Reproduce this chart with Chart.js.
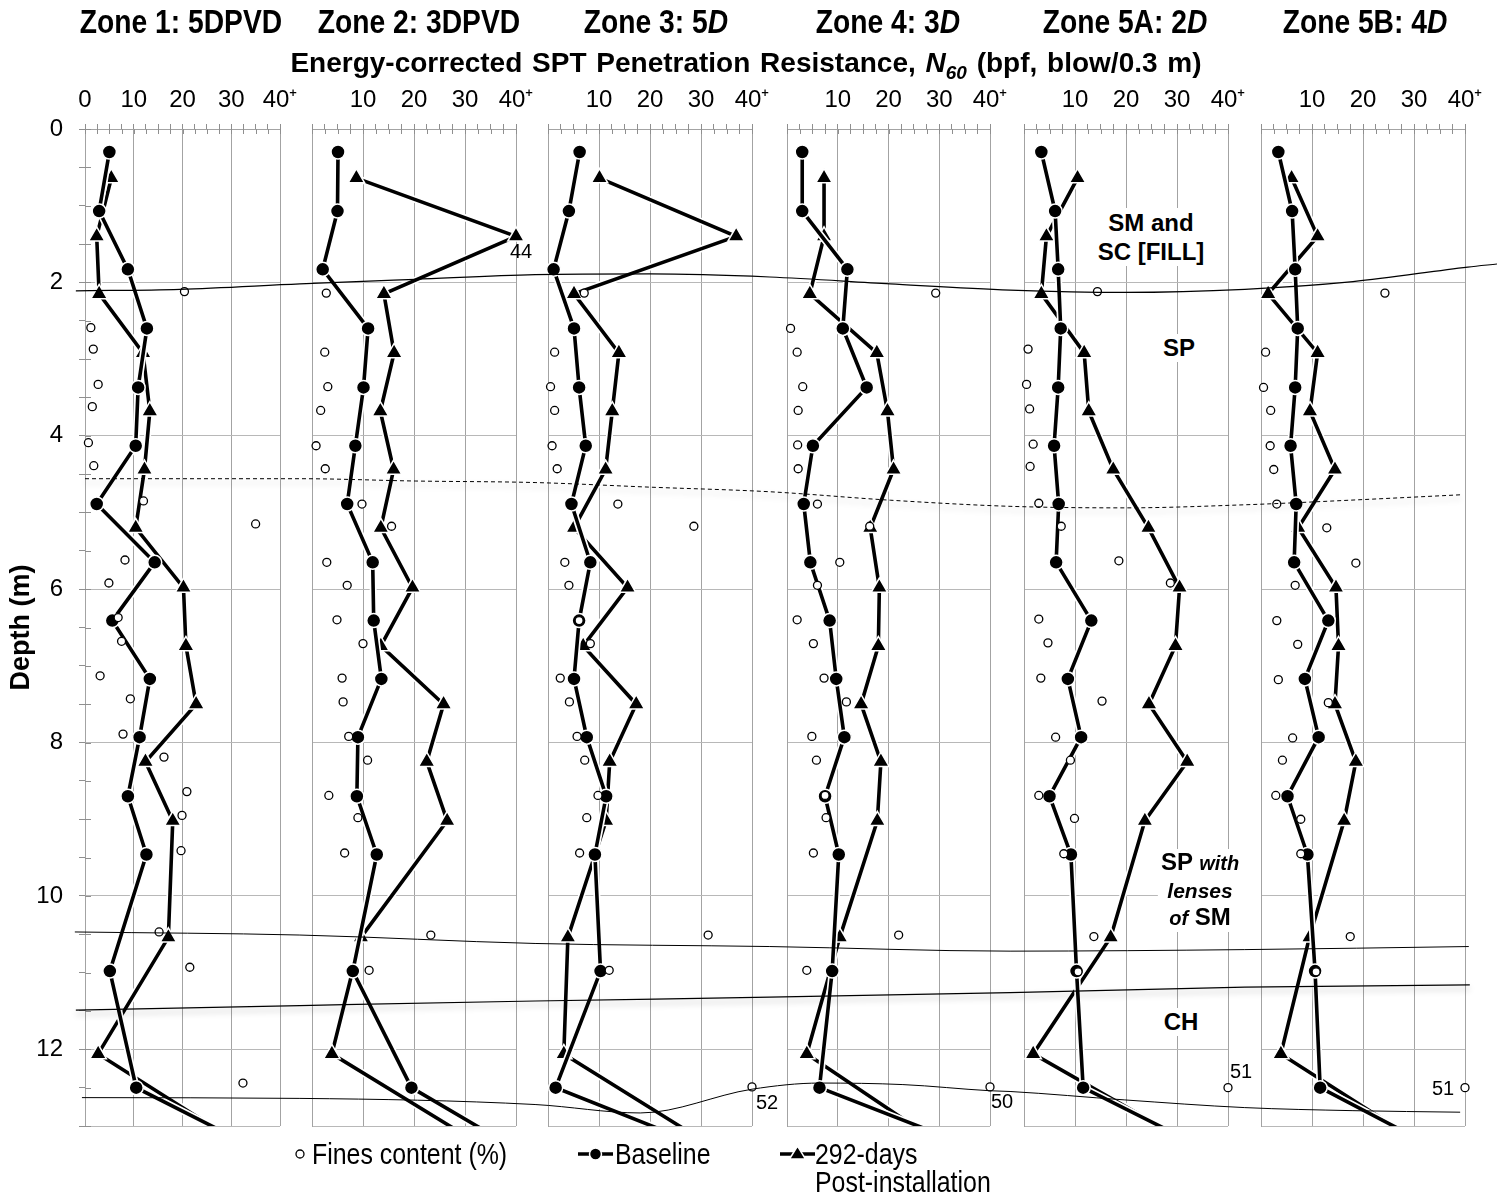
<!DOCTYPE html>
<html>
<head>
<meta charset="utf-8">
<title>SPT N60 profiles by zone</title>
<script src="https://cdn.jsdelivr.net/npm/chart.js@4.4.1/dist/chart.umd.min.js"></script>
<style>
  body { margin: 0; background: #fff; }
  #stage { position: relative; width: 1497px; height: 1193px; overflow: hidden; color: #000;
           font-family: "Liberation Sans Narrow", "Arial Narrow", "Liberation Sans", Arial, sans-serif; }
  #stage canvas { position: absolute; left: 0; top: 0; z-index: 1; }
  .txt { position: absolute; white-space: nowrap; line-height: 1; z-index: 2; }
  .zone { top: 4px; width: 300px; text-align: center; font-weight: bold; font-size: 34px; transform: scaleX(0.83); }
  .main { top: 49px; left: 246px; width: 1000px; text-align: center; font-weight: bold; font-size: 28px; word-spacing: 2px; }
  .strat { font-family: "Liberation Sans", Arial, sans-serif; font-weight: bold; font-size: 24px;
           background: #fff; text-align: center; transform: translateX(-50%); padding: 0 3px; }
  .leg { font-size: 30px; transform: scaleX(0.83); transform-origin: 0 50%; }
  svg.txt { overflow: visible; }
</style>
</head>
<body>
<div id="stage">
  <div class="txt zone" style="left:31px">Zone 1: 5DPVD</div>
  <div class="txt zone" style="left:269px">Zone 2: 3DPVD</div>
  <div class="txt zone" style="left:506px">Zone 3: 5<i>D</i></div>
  <div class="txt zone" style="left:738px">Zone 4: 3<i>D</i></div>
  <div class="txt zone" style="left:975px">Zone 5A: 2<i>D</i></div>
  <div class="txt zone" style="left:1215px">Zone 5B: 4<i>D</i></div>
  <div class="txt main">Energy-corrected SPT Penetration Resistance, <i>N</i><sub style="font-size:19px"><i>60</i></sub> (bpf, blow/0.3 m)</div>

  <div class="txt strat" style="left:1151px;top:208px;line-height:29px">SM and<br>SC [FILL]</div>
  <div class="txt strat" style="left:1179px;top:334px;line-height:28px">SP</div>
  <div class="txt strat" style="left:1200px;top:849px;line-height:26.5px">SP <i style="font-size:20px">with</i><br><i style="font-size:21px">lenses</i><br><i style="font-size:20px">of</i> SM</div>
  <div class="txt strat" style="left:1181px;top:1008px;line-height:28px">CH</div>

  <svg class="txt" style="left:290px;top:1140px" width="20" height="28"><circle cx="10" cy="14" r="4" fill="#fff" stroke="#000" stroke-width="1.3"/></svg>
  <div class="txt leg" style="left:312px;top:1139px">Fines content (%)</div>
  <svg class="txt" style="left:576px;top:1140px" width="40" height="28"><line x1="2" y1="14" x2="37" y2="14" stroke="#000" stroke-width="3.5"/><circle cx="19.5" cy="14" r="6" fill="#000" stroke="#fff" stroke-width="1.5"/></svg>
  <div class="txt leg" style="left:615px;top:1139px">Baseline</div>
  <svg class="txt" style="left:778px;top:1140px" width="40" height="28"><line x1="2" y1="14" x2="37" y2="14" stroke="#000" stroke-width="3.5"/><polygon points="19.5,6 27.5,19 11.5,19" fill="#000" stroke="#fff" stroke-width="1.5"/></svg>
  <div class="txt leg" style="left:815px;top:1139px">292-days</div>
  <div class="txt leg" style="left:815px;top:1167px">Post-installation</div>
</div>
<script>
// sampling depths (m)
const baseDepth = [0.3, 1.07, 1.83, 2.6, 3.37, 4.13, 4.89, 5.65, 6.41, 7.17, 7.93, 8.7, 9.46, 10.98, 12.5, 13.3];
const postDepth = [0.64, 1.4, 2.15, 2.92, 3.68, 4.44, 5.2, 5.98, 6.74, 7.5, 8.25, 9.02, 10.54, 12.06, 13.3];

// N60 baseline per zone
const base1 = [5.0, 2.9, 8.8, 12.7, 10.9, 10.4, 2.4, 14.3, 5.6, 13.3, 11.2, 8.8, 12.6, 5.1, 10.5, 35.3];
const base2 = [5.1, 5.0, 2.1, 11.0, 10.1, 8.5, 6.9, 11.9, 12.1, 13.6, 9.0, 8.8, 12.7, 8.0, 19.5, 40.0];
const base3 = [6.2, 4.1, 1.1, 5.1, 6.1, 7.4, 4.6, 8.3, 6.1, 5.1, 7.6, 11.4, 9.2, 10.3, 1.5, 31.7];
const base4 = [3.0, 3.0, 11.9, 11.0, 15.7, 5.1, 3.3, 4.6, 8.4, 9.7, 11.3, 7.5, 10.2, 8.9, 6.4, 37.5];
const base5 = [3.4, 6.1, 6.7, 7.2, 6.7, 5.9, 6.8, 6.3, 13.2, 8.6, 11.2, 5.0, 9.2, 10.3, 11.6, 35.6];
const base6 = [3.4, 6.1, 6.7, 7.2, 6.7, 5.8, 6.9, 6.5, 13.2, 8.6, 11.3, 5.2, 9.1, 10.6, 11.6, 34.6];

// N60 292 days post-installation per zone
const post1 = [5.4, 2.4, 2.9, 11.9, 13.3, 12.2, 10.4, 20.2, 20.7, 22.8, 12.4, 18.0, 17.1, 2.7, 33.4];
const post2 = [8.7, 44, 14.1, 16.1, 13.4, 16.0, 13.5, 19.7, 13.5, 25.8, 22.5, 26.5, 9.6, 3.9, 34.4];
const post3 = [10.1, 36.9, 5.1, 13.9, 12.6, 11.3, 5.1, 15.6, 6.9, 17.3, 12.1, 11.4, 3.9, 3.1, 33.0];
const post4 = [7.3, 7.3, 4.5, 17.7, 19.8, 21.0, 16.4, 18.2, 18.0, 14.6, 18.5, 17.8, 10.4, 3.9, 31.7];
const post5 = [10.5, 4.4, 3.4, 11.8, 12.7, 17.5, 24.4, 30.5, 29.7, 24.5, 32.0, 23.7, 17.0, 1.8, 34.5];
const post6 = [6.0, 11.1, 1.4, 11.1, 9.6, 14.5, 7.3, 14.7, 15.2, 14.5, 18.6, 16.3, 9.5, 3.9, 33.0];

// fines content (%), [value, depth]
const fines1 = [[20.4,2.12],[1.2,2.59],[1.7,2.87],[2.7,3.33],[1.5,3.62],[0.7,4.09],[1.8,4.39],[12.0,4.85],[35.0,5.15],[8.2,5.62],[4.9,5.92],[6.8,6.37],[7.5,6.68],[3.1,7.13],[9.3,7.43],[7.8,7.89],[16.2,8.19],[20.9,8.64],[19.9,8.95],[19.7,9.41],[15.2,10.47],[21.5,10.93],[32.4,12.44]];
const fines2 = [[2.8,2.14],[2.5,2.91],[3.1,3.36],[1.7,3.67],[0.8,4.13],[2.6,4.43],[9.8,4.89],[15.6,5.18],[2.9,5.65],[6.9,5.95],[4.9,6.4],[10.0,6.71],[5.9,7.16],[6.1,7.47],[7.2,7.92],[10.9,8.23],[3.3,8.69],[9.0,8.98],[6.4,9.44],[23.3,10.51],[11.2,10.97]];
const fines3 = [[7.1,2.14],[1.3,2.91],[0.5,3.36],[1.3,3.67],[0.8,4.13],[1.8,4.43],[13.7,4.89],[28.6,5.18],[3.3,5.65],[4.1,5.95],[6.1,6.41],[8.3,6.71],[2.4,7.16],[4.2,7.47],[5.7,7.92],[7.2,8.23],[9.8,8.69],[7.6,8.98],[6.2,9.44],[31.4,10.51],[12.0,10.97],[52,12.49]];
const fines4 = [[29.3,2.14],[0.7,2.6],[2.0,2.91],[3.1,3.36],[2.2,3.67],[2.1,4.12],[2.2,4.43],[6.0,4.89],[16.3,5.18],[10.4,5.65],[6.0,5.95],[2.0,6.4],[5.2,6.71],[7.3,7.16],[11.7,7.47],[4.9,7.92],[5.8,8.23],[7.5,8.69],[7.7,8.98],[5.2,9.44],[22.0,10.51],[3.9,10.97],[50,12.49]];
const fines5 = [[14.4,2.12],[0.8,2.87],[0.5,3.33],[1.1,3.65],[1.8,4.11],[1.2,4.4],[2.9,4.88],[7.3,5.18],[18.6,5.63],[28.7,5.92],[2.9,6.39],[4.7,6.7],[3.3,7.16],[15.3,7.46],[6.2,7.93],[9.1,8.23],[2.9,8.69],[9.9,8.99],[7.8,9.45],[13.7,10.53],[10.6,10.99],[51,12.5]];
const fines6 = [[24.3,2.14],[0.9,2.91],[0.5,3.37],[1.9,3.67],[1.8,4.13],[2.5,4.44],[3.1,4.89],[12.9,5.2],[18.6,5.66],[6.7,5.95],[3.1,6.41],[7.2,6.72],[3.4,7.18],[13.2,7.48],[6.2,7.94],[4.2,8.23],[2.9,8.69],[7.8,9.0],[7.8,9.45],[17.5,10.53],[10.8,10.99],[51,12.5]];

// soil layer boundaries across the section: [section position (N60 units from zone 1 zero), depth]
const fillBase = [[-1.8,2.11],[18.7,2.09],[42.3,2.02],[65.0,1.96],[88.6,1.90],[111.2,1.89],[134.8,1.93],[158.5,2.02],[182.1,2.10],[204.7,2.13],[228.3,2.09],[249.6,1.99],[272.2,1.80],[278.0,1.76]];
const lensTop  = [[0,4.56],[42.3,4.56],[65.0,4.59],[88.6,4.61],[111.2,4.67],[134.8,4.73],[158.5,4.84],[182.1,4.92],[204.7,4.94],[228.3,4.90],[249.0,4.84],[270.7,4.77]];
const lensBase = [[-2.0,10.47],[42.3,10.51],[88.6,10.62],[134.8,10.66],[182.1,10.72],[228.3,10.70],[272.4,10.66]];
const chTop    = [[-1.8,11.49],[42.3,11.43],[88.6,11.37],[134.8,11.32],[182.1,11.26],[228.3,11.19],[272.6,11.16]];
const chBase   = [[-0.6,12.63],[42.3,12.64],[88.6,12.72],[109.3,12.83],[131.3,12.52],[144.7,12.44],[161.0,12.46],[178.1,12.54],[182.1,12.55],[204.7,12.66],[228.3,12.76],[249.6,12.80],[270.7,12.82]];

const baseline = [base1, base2, base3, base4, base5, base6];
const postInstall = [post1, post2, post3, post4, post5, post6];
const fines = [fines1, fines2, fines3, fines4, fines5, fines6];

const W = 1497, H = 1193;
const panelLeft  = [85, 312, 548, 787, 1024, 1261];
const panelRight = [280, 516, 752, 990, 1228, 1465];
const plotTop = 129, plotBottom = 1126;
const pxPerUnit = 5.08;
// where off-scale values (40+) get their number written
const flagOffset = [null, {dx: 5, dy: 16}, {dx: 15, dy: 17}, {dx: 12, dy: 16}, {dx: 13, dy: -15}, {dx: -22, dy: 2}];

const gridV = '#a3a3a3', gridH = '#b8b8b8', tickCol = '#8f8f8f', clear = 'rgba(0,0,0,0)';
const sans = '"Liberation Sans", Arial, sans-serif';
const stage = document.getElementById('stage');

function newCanvas() {
  const c = document.createElement('canvas');
  c.width = W; c.height = H;
  c.style.width = W + 'px'; c.style.height = H + 'px';
  stage.appendChild(c);
  return c;
}

const crossTicks = {
  id: 'crossTicks',
  afterDraw(chart, args, opts) {
    const {ctx, chartArea: a, scales: {x, y}} = chart;
    ctx.save();
    ctx.strokeStyle = tickCol;
    ctx.lineWidth = 1;
    ctx.beginPath();
    x.ticks.forEach(t => {
      const p = Math.round(x.getPixelForValue(t.value)) + 0.5;
      ctx.moveTo(p, a.top); ctx.lineTo(p, a.top + 5);
    });
    if (opts.left) {
      y.ticks.forEach(t => {
        const p = Math.round(y.getPixelForValue(t.value)) + 0.5;
        ctx.moveTo(a.left, p); ctx.lineTo(a.left + 6, p);
      });
    }
    ctx.stroke();
    ctx.restore();
  }
};

const flags = {
  id: 'flags',
  afterDatasetsDraw(chart, args, opts) {
    if (!opts.offset) return;
    const ctx = chart.ctx;
    ctx.save();
    ctx.font = '20px ' + sans;
    ctx.textAlign = 'center';
    ctx.textBaseline = 'middle';
    ctx.fillStyle = '#000';
    chart.data.datasets.forEach((ds, i) => {
      if (ds.halo) return;
      chart.getDatasetMeta(i).data.forEach((el, k) => {
        const p = ds.data[k];
        if (p.raw > 40 && p.y <= 13) ctx.fillText(String(p.raw), el.x + opts.offset.dx, el.y + opts.offset.dy);
      });
    });
    ctx.restore();
  }
};

const shadow = {
  id: 'shadow',
  beforeDatasetDraw(chart, args) {
    if (!chart.data.datasets[args.index].shadow) return;
    const ctx = chart.ctx;
    ctx.save();
    ctx.shadowColor = 'rgba(0,0,0,0.33)';
    ctx.shadowBlur = 6;
    ctx.shadowOffsetY = 4;
  },
  afterDatasetDraw(chart, args) {
    if (chart.data.datasets[args.index].shadow) chart.ctx.restore();
  }
};

function toPoints(vals, depths) {
  return vals.map((v, k) => ({x: Math.min(v, 40), y: depths[k], raw: v}));
}

const dataClip = {left: 10, top: 10, right: 12, bottom: 0};

function makePanel(i) {
  const first = i === 0;
  const base = toPoints(baseline[i], baseDepth);
  const post = toPoints(postInstall[i], postDepth);
  const fin = fines[i].map(([v, d]) => ({x: Math.min(v, 40), y: d, raw: v}));

  new Chart(newCanvas(), {
    type: 'scatter',
    data: {
      datasets: [
        { label: 'Fines content (%)', data: fin, showLine: false, clip: dataClip,
          pointStyle: 'circle', pointRadius: 4, pointBorderWidth: 1.3,
          pointBackgroundColor: '#fff', pointBorderColor: '#000' },
        { label: 'Baseline', data: base, showLine: true, clip: dataClip,
          borderColor: '#000', borderWidth: 3.6,
          pointStyle: 'circle', pointRadius: 7, pointBorderWidth: 1.5,
          pointBackgroundColor: '#000', pointBorderColor: '#fff' },
        { label: 'halo', halo: true, data: base, showLine: true, clip: dataClip,
          borderColor: '#fff', borderWidth: 7, pointRadius: 0 },
        { label: '292-days Post-installation', data: post, showLine: true, clip: dataClip,
          borderColor: '#000', borderWidth: 3.6,
          pointStyle: 'triangle', pointRadius: 9.5, pointBorderWidth: 1.5,
          pointBackgroundColor: '#000', pointBorderColor: '#fff' },
        { label: 'halo', halo: true, data: post, showLine: true, clip: dataClip,
          borderColor: '#fff', borderWidth: 7, pointRadius: 0 }
      ]
    },
    options: {
      responsive: false,
      animation: false,
      events: [],
      layout: { padding: { left: first ? 0 : panelLeft[i], right: W - panelRight[i], top: 0, bottom: H - plotBottom } },
      plugins: {
        legend: { display: false },
        tooltip: { enabled: false },
        crossTicks: { left: first },
        flags: { offset: flagOffset[i] }
      },
      scales: {
        x: {
          type: 'linear', position: 'top', min: 0, max: 40,
          afterFit: s => { s.height = plotTop; },
          ticks: {
            stepSize: 2.5, autoSkip: false, maxRotation: 0, padding: 9,
            color: '#000', font: { family: sans, size: 24 },
            callback: v => {
              if (v % 10 !== 0) return '';
              if (v === 40) return '40\u207A';
              if (v === 0 && !first) return '';
              return String(v);
            }
          },
          grid: {
            color: c => (c.tick && c.tick.value % 10 === 0) ? gridV : clear,
            tickColor: tickCol, tickLength: 5, lineWidth: 1
          },
          border: { color: gridV }
        },
        y: {
          type: 'linear', reverse: true, min: 0, max: 13,
          afterFit: s => { s.width = first ? panelLeft[0] : 0; },
          ticks: {
            display: first, stepSize: 0.5, autoSkip: false, padding: 16,
            color: '#000', font: { family: sans, size: 24 },
            callback: v => (v % 2 === 0 ? String(v) : '')
          },
          grid: {
            color: c => {
              const v = c.tick ? c.tick.value : 0;
              return ((v % 2 === 0 && v > 0) || v === 13) ? gridH : clear;
            },
            drawTicks: first, tickColor: tickCol, tickLength: 6, lineWidth: 1
          },
          border: { color: gridV },
          title: {
            display: first, text: 'Depth (m)', color: '#000',
            font: { family: sans, size: 27, weight: 'bold' }, padding: { top: 5, bottom: 0 }
          }
        }
      }
    },
    plugins: [crossTicks, flags]
  });
}

for (let i = 0; i < 6; i++) makePanel(i);

// overlay with the layer boundaries, sharing the depth scale of the panels
const sMin = -panelLeft[0] / pxPerUnit;
const sMax = (W - panelLeft[0]) / pxPerUnit;
const boundary = (pts, extra) => Object.assign({
  data: pts.map(([s, d]) => ({x: s, y: d})), showLine: true, pointRadius: 0,
  borderColor: '#000', borderWidth: 1.2, cubicInterpolationMode: 'monotone', clip: false
}, extra || {});

new Chart(newCanvas(), {
  type: 'scatter',
  data: {
    datasets: [
      boundary(fillBase),
      boundary(lensTop, { borderDash: [4, 3], borderWidth: 1, shadow: true }),
      boundary(lensBase, { borderWidth: 1 }),
      boundary(chTop, { shadow: true }),
      boundary(chBase, { borderWidth: 1 })
    ]
  },
  options: {
    responsive: false,
    animation: false,
    events: [],
    layout: { padding: { left: 0, right: 0, top: plotTop, bottom: H - plotBottom } },
    plugins: { legend: { display: false }, tooltip: { enabled: false } },
    scales: {
      x: { type: 'linear', display: false, min: sMin, max: sMax },
      y: { type: 'linear', display: false, reverse: true, min: 0, max: 13 }
    }
  },
  plugins: [shadow]
});
</script>
</body>
</html>
